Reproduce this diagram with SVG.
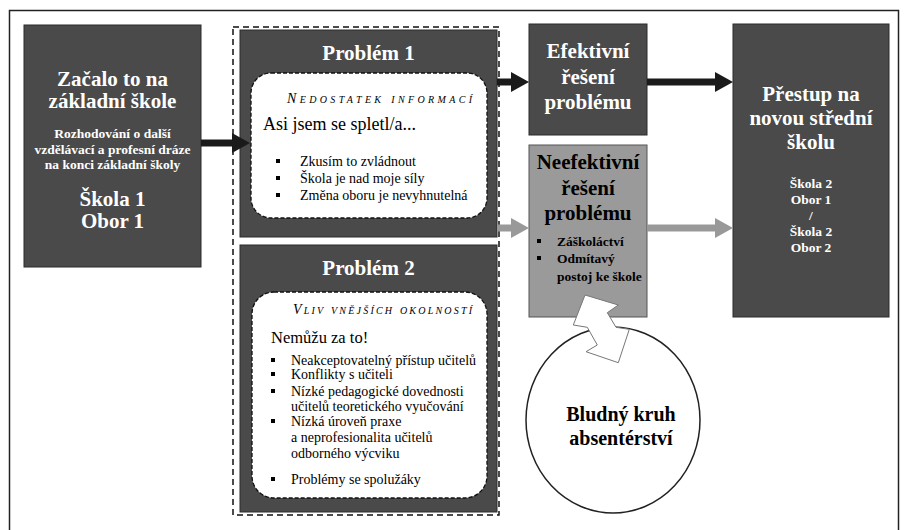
<svg xmlns="http://www.w3.org/2000/svg" width="908" height="530" viewBox="0 0 908 530">
<style>
text{font-family:"Liberation Serif","Times New Roman",serif}
.dark{fill:#4a4a4a;stroke:#2b2b2b;stroke-width:1}
.gray{fill:#9a9a9a;stroke:#555;stroke-width:1}
.inner{fill:#fff;stroke:#111;stroke-width:1.3;stroke-dasharray:4 2}
.t{fill:#fff;font-weight:bold;text-anchor:middle}
.tb{fill:#000;font-weight:bold}
.n{fill:#000}
.sc{fill:#000;font-style:italic;font-variant:small-caps}
.bul{fill:#000}
.shaftB{stroke:#1a1a1a;stroke-width:7;fill:none}
.shaftG{stroke:#999;stroke-width:7;fill:none}
</style>
<defs>
<marker id="hB" viewBox="0 0 18 20" refX="0" refY="10" markerWidth="18" markerHeight="20" markerUnits="userSpaceOnUse" orient="auto"><path d="M0,0 L18,10 L0,20 z" fill="#1a1a1a"/></marker>
<marker id="hG" viewBox="0 0 18 20" refX="0" refY="10" markerWidth="18" markerHeight="20" markerUnits="userSpaceOnUse" orient="auto"><path d="M0,0 L18,10 L0,20 z" fill="#999"/></marker>
</defs>
<rect x="0" y="0" width="908" height="530" fill="#fff"/>
<rect id="frame" x="9.5" y="10.5" width="889" height="530" fill="none" stroke="#222" stroke-width="1.5"/>

<g id="start">
<rect class="dark" x="24" y="25" width="177" height="242"/>
<text class="t" x="112.5" y="86" font-size="21">Začalo to na</text>
<text class="t" x="112.5" y="108" font-size="21">základní škole</text>
<text class="t" x="112.5" y="138" font-size="13.5">Rozhodování o další</text>
<text class="t" x="112.5" y="154" font-size="13.5">vzdělávací a profesní dráze</text>
<text class="t" x="112.5" y="169" font-size="13.5">na konci základní školy</text>
<text class="t" x="112.5" y="206" font-size="21">Škola 1</text>
<text class="t" x="112.5" y="228" font-size="21">Obor 1</text>
</g>

<g id="problems">
<rect x="233" y="27" width="266" height="488" fill="none" stroke="#111" stroke-width="1.5" stroke-dasharray="6 4"/>
</g>

<g id="problem1">
<rect class="dark" x="240" y="30" width="257" height="207"/>
<text class="t" x="368.5" y="60" font-size="21">Problém 1</text>
<rect class="inner" x="251" y="73" width="236" height="145" rx="20"/>
<text class="sc" x="287" y="103" font-size="14" textLength="185" lengthAdjust="spacing">Nedostatek informací</text>
<text class="n" x="263" y="130" font-size="18">Asi jsem se spletl/a...</text>
<rect class="bul" x="276" y="159" width="4" height="4"/>
<rect class="bul" x="276" y="176" width="4" height="4"/>
<rect class="bul" x="276" y="193" width="4" height="4"/>
<text class="n" x="300" y="166" font-size="14">Zkusím to zvládnout</text>
<text class="n" x="300" y="183" font-size="14">Škola je nad moje síly</text>
<text class="n" x="300" y="200" font-size="14">Změna oboru je nevyhnutelná</text>
</g>

<g id="problem2">
<rect class="dark" x="240" y="245" width="257" height="267"/>
<text class="t" x="368.5" y="275" font-size="21">Problém 2</text>
<rect class="inner" x="252" y="292" width="235" height="206" rx="22"/>
<text class="sc" x="293" y="314" font-size="14" textLength="179" lengthAdjust="spacing">Vliv vnějších okolností</text>
<text class="n" x="271" y="343" font-size="16.5">Nemůžu za to!</text>
<rect class="bul" x="271" y="358" width="4" height="4"/>
<rect class="bul" x="271" y="372" width="4" height="4"/>
<rect class="bul" x="271" y="389" width="4" height="4"/>
<rect class="bul" x="271" y="419" width="4" height="4"/>
<rect class="bul" x="271" y="477" width="4" height="4"/>
<text class="n" x="291" y="365" font-size="14">Neakceptovatelný přístup učitelů</text>
<text class="n" x="291" y="379" font-size="14">Konflikty s učiteli</text>
<text class="n" x="291" y="396" font-size="14">Nízké pedagogické dovednosti</text>
<text class="n" x="291" y="411" font-size="14">učitelů teoretického vyučování</text>
<text class="n" x="291" y="426" font-size="14">Nízká úroveň praxe</text>
<text class="n" x="291" y="442" font-size="14">a neprofesionalita učitelů</text>
<text class="n" x="291" y="458" font-size="14">odborného výcviku</text>
<text class="n" x="291" y="484" font-size="14">Problémy se spolužáky</text>
</g>

<g id="efektivni">
<rect class="dark" x="529" y="24" width="118" height="111"/>
<text class="t" x="588" y="58" font-size="21">Efektivní</text>
<text class="t" x="588" y="84" font-size="21">řešení</text>
<text class="t" x="588" y="109" font-size="21">problému</text>
</g>

<g id="neefektivni">
<rect class="gray" x="529" y="145" width="118" height="172"/>
<text class="tb" x="588" y="169" font-size="21" text-anchor="middle">Neefektivní</text>
<text class="tb" x="588" y="195" font-size="21" text-anchor="middle">řešení</text>
<text class="tb" x="588" y="220" font-size="21" text-anchor="middle">problému</text>
<rect x="537" y="239" width="4" height="4" fill="#000"/>
<rect x="537" y="256" width="4" height="4" fill="#000"/>
<text class="tb" x="557" y="246" font-size="13.5">Záškoláctví</text>
<text class="tb" x="557" y="263" font-size="13.5">Odmítavý</text>
<text class="tb" x="557" y="281" font-size="13.5">postoj ke škole</text>
</g>

<g id="prestup">
<rect class="dark" x="733" y="24" width="156" height="293"/>
<text class="t" x="811" y="101" font-size="21">Přestup na</text>
<text class="t" x="811" y="125" font-size="21">novou střední</text>
<text class="t" x="811" y="149" font-size="21">školu</text>
<text class="t" x="811" y="188" font-size="13.5">Škola 2</text>
<text class="t" x="811" y="204" font-size="13.5">Obor 1</text>
<text class="t" x="811" y="220" font-size="13.5">/</text>
<text class="t" x="811" y="236" font-size="13.5">Škola 2</text>
<text class="t" x="811" y="252" font-size="13.5">Obor 2</text>
</g>

<g id="kruh">
<ellipse cx="613" cy="420" rx="87" ry="93" fill="#fff" stroke="#222" stroke-width="1.5"/>
<text class="tb" x="621" y="421" font-size="20" text-anchor="middle">Bludný kruh</text>
<text class="tb" x="621" y="445" font-size="20" text-anchor="middle">absentérství</text>
</g>

<g id="connectors">
<line class="shaftB" x1="201" y1="143" x2="232" y2="143" marker-end="url(#hB)"/>
<line class="shaftB" x1="497" y1="82" x2="511" y2="82" marker-end="url(#hB)"/>
<line class="shaftB" x1="647" y1="82" x2="715" y2="82" marker-end="url(#hB)"/>
<line class="shaftG" x1="497" y1="228" x2="511" y2="228" marker-end="url(#hG)"/>
<line class="shaftG" x1="647" y1="228" x2="715" y2="228" marker-end="url(#hG)"/>
<polygon points="585,295 618.3,305 607.3,312.7 616,327.3 629.3,329.3 618.3,362.7 586,351.7 597.3,345 587.3,327.3 573.3,325" fill="#fff" stroke="#777" stroke-width="1"/>
</g>
</svg>
